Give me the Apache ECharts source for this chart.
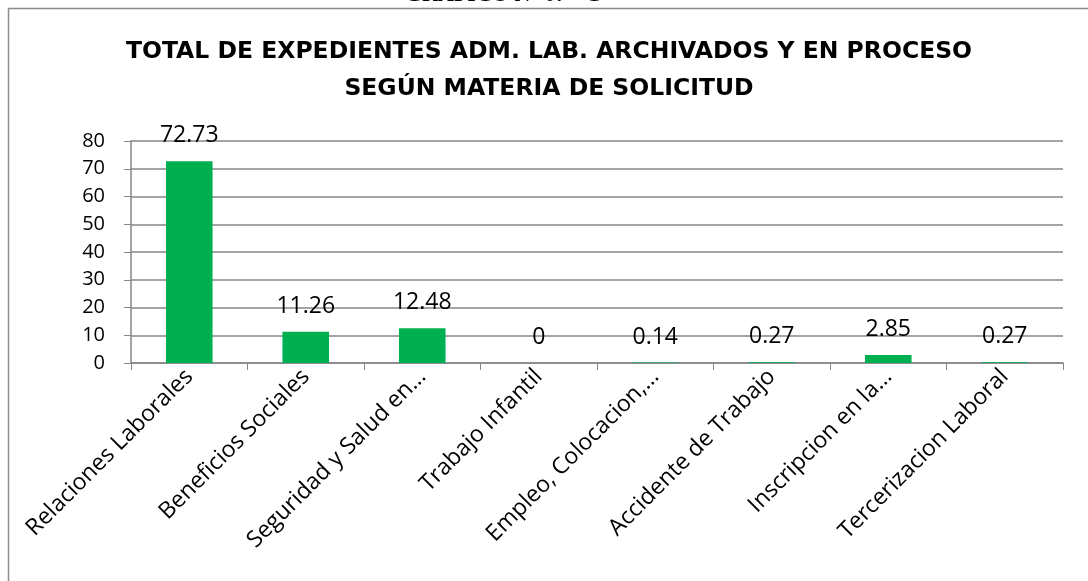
<html>
    <head>
        <meta charset="utf-8">
        <script src="https://cdn.jsdelivr.net/npm/echarts@6/dist/echarts.min.js"></script>
    </head>
    <body style="margin:0;background:#fff">
        <div id="main" style="width:1088px;height:581px"></div>
        <script>

        var categories = [
            'Relaciones Laborales',
            'Beneficios Sociales',
            'Seguridad y Salud en…',
            'Trabajo Infantil',
            'Empleo, Colocacion,…',
            'Accidente de Trabajo',
            'Inscripcion en la…',
            'Tercerizacion Laboral'
        ];
        var values = [72.73, 11.26, 12.48, 0, 0.14, 0.27, 2.85, 0.27];
        var yTicks = [0, 10, 20, 30, 40, 50, 60, 70, 80];

        var chart = echarts.init(document.getElementById('main'));

        chart.setOption({
            animation: false,
            graphic: [
                {
                    type: 'rect',
                    shape: { x: 8.5, y: 8.5, width: 1200, height: 700 },
                    style: { fill: 'none', stroke: '#8c8c8c', lineWidth: 1.5 }
                },
                {
                    type: 'text',
                    left: 405,
                    top: -16,
                    style: {
                        text: 'GRÁFICO N° 07 - C',
                        font: 'bold 22px "Liberation Serif"',
                        fill: '#000'
                    }
                }
            ],
            title: {
                text: 'TOTAL DE EXPEDIENTES ADM. LAB. ARCHIVADOS Y EN PROCESO\nSEGÚN MATERIA DE SOLICITUD',
                left: 544,
                textAlign: 'center',
                top: 28,
                textStyle: {
                    fontFamily: 'DejaVu Sans',
                    fontWeight: 'bold',
                    fontSize: 23.5,
                    lineHeight: 37,
                    color: '#000'
                }
            },
            grid: {
                left: 131,
                right: 25,
                top: 141,
                bottom: 218
            },
            xAxis: {
                type: 'category',
                data: categories,
                axisLine: { lineStyle: { color: '#868686', width: 1.5 } },
                axisTick: { show: true, length: 7, lineStyle: { color: '#868686' } },
                axisLabel: {
                    rotate: 45,
                    interval: 0,
                    margin: 10,
                    fontFamily: 'Open Sans',
                    fontSize: 23,
                    color: '#000'
                }
            },
            yAxis: {
                type: 'value',
                min: yTicks[0],
                max: yTicks[yTicks.length - 1],
                interval: 10,
                axisLine: { show: true, lineStyle: { color: '#868686', width: 1.5 } },
                axisTick: { show: true, length: 7, lineStyle: { color: '#868686' } },
                splitLine: { lineStyle: { color: '#868686', width: 1.5 } },
                axisLabel: {
                    margin: 26,
                    fontFamily: 'Open Sans',
                    fontSize: 20,
                    color: '#000'
                }
            },
            series: [{
                type: 'bar',
                data: values,
                barWidth: '40%',
                itemStyle: { color: '#00b050' },
                label: {
                    show: true,
                    position: 'top',
                    distance: 14,
                    fontFamily: 'Open Sans',
                    fontSize: 23,
                    color: '#000'
                }
            }]
        });

        window.onresize = chart.resize;

        </script>
    </body>
</html>
